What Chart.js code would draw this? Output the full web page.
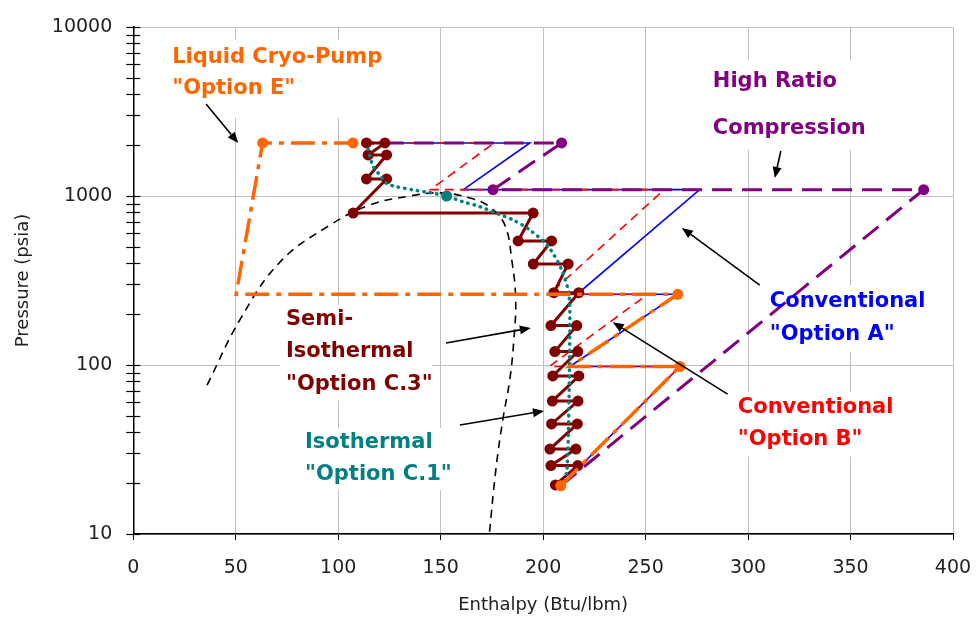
<!DOCTYPE html>
<html><head><meta charset="utf-8">
<script src="https://cdn.jsdelivr.net/npm/chart.js@4/dist/chart.umd.min.js"></script>
<style>html,body{margin:0;padding:0;background:#fff}#wrap{width:976px;height:622px}</style>
</head><body><div id="wrap"><canvas id="c" width="976" height="622"></canvas></div>
<script>
// ---------- axis ticks ----------
const xTickStep = 50;
const yMajorTicks = [10, 100, 1000, 10000];
const yMinorSignificands = [2, 3, 4, 5, 6, 7, 8, 9];

// ---------- saturation dome (black dashed) ----------
const domeH = [36.0, 52.0, 71.6, 96.0, 115.5, 135.0, 149.6, 164.3, 174.0, 181.3, 184.7, 186.6, 185.7, 183.7, 180.3, 176.9, 173.8];
const domeP = [76, 185, 407, 673, 885, 1000, 1043, 973, 861, 673, 418, 243, 141, 81.5, 47.3, 23.9, 10.2];

// ---------- Liquid Cryo-Pump "Option E" ----------
const optEH = [208.6, 266.7, 213.0, 265.7, 50.2, 63.1, 107.2];
const optEP = [19.3, 98, 98, 262, 262, 2060, 2060];

// ---------- Conventional "Option A" ----------
const optAH = [208.6, 266.7, 213.0, 265.7, 216.5, 276.4, 161.0, 193.5, 113.0];
const optAP = [19.3, 98, 98, 262, 262, 1090, 1090, 2060, 2060];

// ---------- Conventional "Option B" ----------
const optBH = [208.6, 266.7, 203.0, 251.0, 203.0, 259.0, 145.0, 176.0, 113.0];
const optBP = [19.3, 98, 98, 262, 262, 1090, 1090, 2060, 2060];

// ---------- High Ratio Compression ----------
const hrH = [208.6, 385.7, 175.5, 209.0, 113.0];
const hrP = [19.3, 1090, 1090, 2060, 2060];

// ---------- Isothermal "Option C.1" ----------
const c1H = [209.6, 211.6, 212.6, 213.0, 212.6, 209.1, 202.3, 193.5, 185.4, 177.3, 169.1, 160.8, 152.9, 144.7, 136.6, 128.5, 123.6, 120.3, 117.1, 115.5, 113.9];
const c1P = [19.0, 23.9, 62, 161, 259, 365, 506, 629, 721, 790, 865, 925, 1000, 1047, 1086, 1135, 1189, 1331, 1490, 1710, 2051];

// ---------- Semi-Isothermal "Option C.3" ----------
const c3H = [206.0, 216.9, 203.8, 216.0, 203.3, 216.7, 204.1, 217.0, 204.5, 217.4, 204.7, 216.9, 205.7, 216.4, 203.8, 217.4, 205.2, 212.2, 195.2, 204.1, 187.8, 195.1, 107.3, 123.6, 113.8, 123.6, 114.6, 122.8, 113.8];
const c3P = [19.5, 25.4, 25.4, 31.8, 31.8, 44.8, 44.8, 61.2, 61.2, 86.1, 86.1, 120, 120, 171, 171, 268, 268, 396, 396, 542, 542, 793, 793, 1261, 1261, 1749, 1749, 2060, 2060];

// ---------- annotation texts ----------
const labelTexts = ['Liquid Cryo-Pump', '"Option E"', 'High Ratio', 'Compression', 'Conventional', '"Option A"', 'Conventional', '"Option B"', 'Semi-', 'Isothermal', '"Option C.3"', 'Isothermal', '"Option C.1"'];

// ---------- helpers ----------
const pts = (hs, ps) => hs.map((h, i) => ({x: h, y: ps[i]}));
const yTickValues = [];
for (let d = 10; d <= 10000; d *= 10) {
  yTickValues.push(d);
  if (d < 10000) yMinorSignificands.forEach(s => yTickValues.push(s * d));
}
const isMajor = v => yMajorTicks.some(m => Math.abs(m - v) < 1e-6 * m);

const COL = {orange:'#ff6600', blue:'#0000ff', red:'#ff0000', purple:'#800080', teal:'#008080', dred:'#800000'};

// annotation layout (data coordinates: enthalpy, pressure)
const labelAnchors = [
  {h:19, p:6555, c:COL.orange}, {h:19, p:4296, c:COL.orange},
  {h:282.8, p:4730, c:COL.purple}, {h:282.8, p:2523, c:COL.purple},
  {h:310.6, p:236, c:COL.blue}, {h:310.6, p:150.7, c:COL.blue},
  {h:295, p:55.7, c:COL.red}, {h:295, p:36, c:COL.red},
  {h:74.5, p:184.5, c:COL.dred}, {h:74.5, p:119.4, c:COL.dred}, {h:74.5, p:76.2, c:COL.dred},
  {h:83.8, p:35, c:COL.teal}, {h:83.8, p:22.6, c:COL.teal}
];
const arrowsDef = [
  {h0:35.5, p0:3499, h1:51.2, p1:2059},
  {h0:316, p0:1845, h1:313, p1:1279},
  {h0:305.7, p0:297, h1:267.7, p1:647},
  {h0:290, p0:67.3, h1:234, p1:179},
  {h0:152.6, p0:134.9, h1:194, p1:165.6},
  {h0:159.4, p0:44.2, h1:200.4, p1:53.5}
];
const boxesDef = [
  {h0:15.5, h1:127.7, p0:8375, p1:2897},
  {h0:278.8, h1:369.1, p0:6383, p1:1871},
  {h0:306.7, h1:391, p0:297, p1:119.4},
  {h0:291, h1:376.4, p0:69.2, p1:28.9},
  {h0:71.6, h1:145.7, p0:226, p1:62},
  {h0:80.4, h1:155.4, p0:42.4, p1:18.2}
];

const annotPlugin = {
  id: 'annot',
  beforeDatasetsDraw(chart) {
    const {ctx, scales: {x, y}} = chart;
    ctx.save();
    ctx.fillStyle = '#ffffff';
    boxesDef.forEach(b => {
      const x0 = x.getPixelForValue(b.h0), x1 = x.getPixelForValue(b.h1);
      const y0 = y.getPixelForValue(b.p0), y1 = y.getPixelForValue(b.p1);
      ctx.fillRect(x0, y0, x1 - x0, y1 - y0);
    });
    ctx.restore();
  },
  afterDatasetsDraw(chart) {
    const {ctx, scales: {x, y}} = chart;
    ctx.save();
    ctx.strokeStyle = '#000'; ctx.fillStyle = '#000'; ctx.lineWidth = 1.6;
    arrowsDef.forEach(a => {
      const x0 = x.getPixelForValue(a.h0), y0 = y.getPixelForValue(a.p0);
      const x1 = x.getPixelForValue(a.h1), y1 = y.getPixelForValue(a.p1);
      const ang = Math.atan2(y1 - y0, x1 - x0);
      const L = 11, W = 4.5;
      const bx = x1 - L * Math.cos(ang), by = y1 - L * Math.sin(ang);
      ctx.beginPath(); ctx.moveTo(x0, y0); ctx.lineTo(bx, by); ctx.stroke();
      ctx.beginPath();
      ctx.moveTo(x1, y1);
      ctx.lineTo(bx + W * Math.sin(ang), by - W * Math.cos(ang));
      ctx.lineTo(bx - W * Math.sin(ang), by + W * Math.cos(ang));
      ctx.closePath(); ctx.fill();
    });
    ctx.font = 'bold 21px "DejaVu Sans"';
    ctx.textAlign = 'left'; ctx.textBaseline = 'middle';
    labelAnchors.forEach((l, i) => {
      ctx.fillStyle = l.c;
      ctx.fillText(labelTexts[i], x.getPixelForValue(l.h), y.getPixelForValue(l.p));
    });
    ctx.restore();
  },
  afterDraw(chart) {
    const {ctx, scales: {y}, chartArea} = chart;
    ctx.save();
    ctx.strokeStyle = '#000'; ctx.lineWidth = 1.2;
    const ax = chartArea.left;
    y.ticks.forEach(t => {
      const py = Math.round(y.getPixelForValue(t.value)) + 0.5;
      ctx.beginPath(); ctx.moveTo(ax - 7, py); ctx.lineTo(ax + 7, py); ctx.stroke();
    });
    ctx.restore();
  }
};

const markerAt = idx => ctx => idx.includes(ctx.dataIndex) ? 5.5 : 0;

new Chart(document.getElementById('c'), {
  type: 'scatter',
  data: {
    datasets: [
      {label:'Option E', data: pts(optEH, optEP), showLine:true, borderColor:COL.orange, backgroundColor:COL.orange,
       borderWidth:3.5, borderDash:[24, 7, 5, 7], pointRadius: markerAt([0,1,3,5,6]), pointBorderWidth:0, tension:0},
      {label:'Option C.1', data: pts(c1H, c1P), showLine:true, borderColor:COL.teal, backgroundColor:COL.teal,
       borderWidth:3.5, borderDash:[0.5, 6], borderCapStyle:'round', pointRadius: markerAt([12]), pointBorderWidth:0, tension:0.3},
      {label:'Option C.3', data: pts(c3H, c3P), showLine:true, borderColor:COL.dred, backgroundColor:COL.dred,
       borderWidth:3, pointRadius:5.5, pointBorderWidth:0, tension:0},
      {label:'High Ratio', data: pts(hrH, hrP), showLine:true, borderColor:COL.purple, backgroundColor:COL.purple,
       borderWidth:3, borderDash:[20, 10], pointRadius: markerAt([1,2,3]), pointBorderWidth:0, tension:0},
      {label:'Option B', data: pts(optBH, optBP), showLine:true, borderColor:COL.red, backgroundColor:COL.red,
       borderWidth:1.6, borderDash:[9, 6], pointRadius:0, tension:0},
      {label:'Option A', data: pts(optAH, optAP), showLine:true, borderColor:COL.blue, backgroundColor:COL.blue,
       borderWidth:1.6, pointRadius:0, tension:0},
      {label:'Dome', data: pts(domeH, domeP), showLine:true, borderColor:'#000', backgroundColor:'#000',
       borderWidth:1.6, borderDash:[8, 6], pointRadius:0, tension:0.4}
    ]
  },
  options: {
    responsive: false, animation: false, devicePixelRatio: 1,
    layout: {padding: {top: 27, right: 23, left: 0, bottom: 0}},
    plugins: {legend: {display: false}, tooltip: {enabled: false}},
    scales: {
      x: {
        type: 'linear', min: 0, max: 400,
        ticks: {stepSize: xTickStep, font: {family: 'DejaVu Sans', size: 19}, color: '#222', padding: 17, maxRotation: 0, autoSkip: false},
        grid: {color: '#c0c0c0', lineWidth: 1, drawTicks: true, tickLength: 6, tickColor: '#000'},
        border: {color: '#000', width: 1.5},
        title: {display: true, text: 'Enthalpy (Btu/lbm)', font: {family: 'DejaVu Sans', size: 18}, color: '#222', padding: {top: 0, bottom: 6}},
        afterFit: s => { s.height = 88; s.paddingLeft = 0; s.paddingRight = 0; }
      },
      y: {
        type: 'logarithmic', min: 10, max: 10000,
        afterBuildTicks: s => { s.ticks = yTickValues.map(v => ({value: v, major: isMajor(v)})); },
        ticks: {callback: v => isMajor(v) ? String(Math.round(v)) : '', autoSkip: false, padding: 21,
                font: {family: 'DejaVu Sans', size: 19}, color: '#222'},
        grid: {color: c => (c.tick && isMajor(c.tick.value)) ? '#c0c0c0' : 'rgba(0,0,0,0)', drawTicks: false},
        border: {color: '#000', width: 1.5},
        title: {display: true, text: 'Pressure (psia)', font: {family: 'DejaVu Sans', size: 18}, color: '#222', padding: {top: 13, bottom: 0}},
        afterFit: s => { s.width = 133.3; s.paddingTop = 0; s.paddingBottom = 0; }
      }
    }
  },
  plugins: [annotPlugin]
});
</script>
</body></html>
